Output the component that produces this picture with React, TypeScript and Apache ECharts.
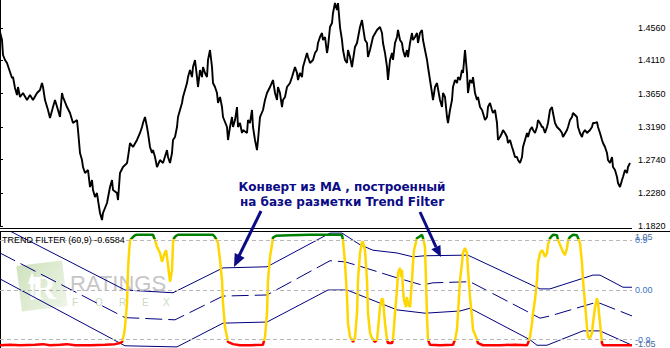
import React, { useEffect, useRef } from "react";
import * as echarts from "echarts";

// ---------- price window (bar index -> close) ----------
const priceBars = [0,2,3,5,7,10,12,13,15,17,18,20,23,27,30,33,37,40,42,43,45,48,50,53,55,58,60,62,63,67,70,73,77,78,80,82,83,85,88,90,92,93,95,97,98,100,102,103,107,110,112,113,117,118,120,123,127,128,130,133,137,140,142,143,145,147,148,150,152,153,155,157,160,163,167,168,170,172,173,175,177,178,180,182,183,185,187,188,190,192,193,195,197,198,200,202,203,205,207,208,210,212,213,215,217,218,220,222,223,227,228,230,232,233,235,237,238,240,242,243,247,248,250,252,253,255,257,258,260,263,265,267,270,273,275,277,278,280,282,283,285,287,290,292,295,297,298,300,302,303,305,307,308,310,313,315,317,318,320,322,323,325,327,328,330,332,333,335,337,338,340,342,343,345,347,348,350,352,353,355,357,360,362,363,365,367,368,370,373,377,380,382,383,385,387,388,390,392,393,395,397,398,400,402,403,405,407,408,410,412,413,415,417,418,420,422,423,425,427,428,430,432,433,435,437,440,442,443,445,447,448,450,452,453,455,457,458,460,462,463,465,467,468,470,472,473,475,477,478,480,482,483,485,487,488,490,492,493,495,497,498,500,502,503,505,507,508,510,512,513,515,517,518,520,522,523,525,527,528,530,532,533,535,537,538,540,542,543,545,547,548,550,552,553,555,557,560,562,563,567,568,570,572,573,577,578,580,582,583,585,587,590,592,593,595,597,598,600,602,603,605,607,608,610,612,613,615,617,618,620,622,623,625,627,628,630];
const priceValues = [1.4504,1.4393,1.4186,1.4117,1.4075,1.3951,1.3868,1.3881,1.3729,1.3632,1.3743,1.3605,1.3660,1.3563,1.3632,1.3563,1.3660,1.3702,1.3798,1.3743,1.3563,1.3425,1.3314,1.3466,1.3563,1.3425,1.3328,1.3660,1.3605,1.3466,1.3383,1.3245,1.3286,1.3148,1.2830,1.2733,1.2636,1.2553,1.2595,1.2359,1.2456,1.2318,1.2221,1.2276,1.2179,1.2000,1.1903,1.2000,1.2138,1.2359,1.2456,1.2318,1.2276,1.2179,1.2553,1.2636,1.2691,1.2774,1.2968,1.2913,1.3010,1.3107,1.3190,1.3245,1.3328,1.3190,1.3107,1.2913,1.2830,1.2871,1.2774,1.2636,1.2733,1.2691,1.2871,1.2774,1.2691,1.2830,1.3010,1.3051,1.3190,1.3328,1.3425,1.3522,1.3605,1.3702,1.3798,1.3881,1.3978,1.3881,1.4020,1.4117,1.3881,1.3743,1.3978,1.3881,1.4020,1.3937,1.3881,1.4117,1.4255,1.4020,1.3798,1.3743,1.3660,1.3522,1.3605,1.3466,1.3328,1.3190,1.3010,1.3190,1.3328,1.3190,1.3286,1.3466,1.3190,1.3245,1.3107,1.3148,1.3107,1.3286,1.3245,1.3425,1.3190,1.3010,1.2871,1.3010,1.3328,1.3425,1.3563,1.3660,1.3743,1.3840,1.3660,1.3563,1.3743,1.3660,1.3466,1.3563,1.3605,1.3743,1.3798,1.3881,1.4020,1.3937,1.3840,1.3937,1.3881,1.4020,1.4117,1.4214,1.4158,1.4075,1.4117,1.4214,1.4255,1.4352,1.4435,1.4490,1.4393,1.4435,1.4214,1.4297,1.4573,1.4629,1.4767,1.4905,1.4809,1.4905,1.4573,1.4393,1.4255,1.4117,1.4075,1.4255,1.4158,1.4020,1.4117,1.4297,1.4352,1.4573,1.4670,1.4573,1.4393,1.4352,1.4158,1.4255,1.4435,1.4532,1.4573,1.4490,1.4352,1.4214,1.4020,1.3840,1.4117,1.4214,1.4117,1.4352,1.4435,1.4532,1.4393,1.4352,1.4255,1.4158,1.4255,1.4158,1.4352,1.4490,1.4393,1.4435,1.4490,1.4352,1.4490,1.4532,1.4393,1.4255,1.4117,1.4020,1.3840,1.3660,1.3563,1.3743,1.3798,1.3563,1.3466,1.3660,1.3605,1.3328,1.3245,1.3425,1.3563,1.3743,1.3840,1.3798,1.3881,1.3840,1.3978,1.3937,1.4255,1.3937,1.3660,1.3840,1.3798,1.3881,1.3660,1.3563,1.3605,1.3466,1.3425,1.3383,1.3286,1.3328,1.3466,1.3522,1.3425,1.3383,1.3425,1.3245,1.3010,1.3051,1.3107,1.3148,1.3107,1.3051,1.2968,1.3010,1.2913,1.2871,1.2774,1.2774,1.2733,1.2691,1.2774,1.2913,1.3010,1.3107,1.3051,1.3148,1.3190,1.3148,1.3107,1.3190,1.3286,1.3245,1.3190,1.3190,1.3107,1.3190,1.3245,1.3425,1.3466,1.3383,1.3245,1.3190,1.3148,1.3107,1.3051,1.3148,1.3190,1.3286,1.3328,1.3383,1.3328,1.3190,1.3107,1.3051,1.3107,1.3148,1.3107,1.3148,1.3190,1.3245,1.3245,1.3259,1.3190,1.3107,1.3010,1.2968,1.2913,1.2830,1.2733,1.2691,1.2774,1.2636,1.2595,1.2498,1.2415,1.2359,1.2456,1.2498,1.2595,1.2553,1.2636,1.2691];
const priceTicks = [1.182, 1.228, 1.274, 1.319, 1.365, 1.411, 1.456];

// ---------- TREND FILTER window ----------
const tfBars = [0,10,20,35,43,50,60,67,75,90,105,115,120,122,124,125,127,128,129,130,132,133,135,137,145,153,155,157,160,162,164,166,167,168,170,172,173,174,176,178,190,205,213,215,218,220,222,223,225,227,228,233,240,250,263,265,267,268,270,272,273,276,290,310,330,340,342,343,345,347,348,350,352,353,355,357,358,360,362,363,365,367,368,370,372,373,375,377,378,380,382,383,385,387,388,392,393,395,397,398,400,401,402,403,404,406,407,408,410,412,413,414,416,417,419,422,423,425,426,427,428,430,440,453,455,457,458,460,462,463,465,467,468,470,472,473,476,478,483,500,515,527,528,530,532,533,535,537,538,540,542,543,545,547,548,550,553,557,558,560,563,565,567,568,570,573,577,578,580,582,583,585,587,588,590,592,593,595,597,598,600,601,602,603,615,632];
const tfValues = [-1.0,-0.99,-1.0,-0.99,-0.98,-1.0,-0.99,-0.98,-1.0,-1.0,-0.99,-0.98,-0.96,-0.94,-0.8,-0.67,-0.24,0.36,0.67,0.9,0.94,0.96,0.99,1.0,1.0,1.0,0.9,0.78,0.67,0.51,0.63,0.72,0.6,0.45,0.15,0.36,0.85,0.94,0.98,1.0,1.0,1.0,1.0,0.96,0.85,0.54,0.18,-0.24,-0.67,-0.85,-0.94,-0.98,-1.0,-1.0,-0.99,-0.85,-0.42,0.18,0.6,0.82,0.95,0.98,0.99,1.0,1.0,1.0,0.99,0.9,0.49,-0.13,-0.6,-0.85,-0.9,-0.94,-0.87,-0.42,0.18,0.67,0.87,0.87,0.72,0.18,-0.42,-0.78,-0.87,-0.9,-0.94,-0.9,-0.72,-0.31,-0.15,-0.18,-0.6,-0.9,-0.96,-0.96,-0.9,-0.42,0.0,0.31,0.4,0.24,0.36,0.0,-0.18,-0.31,-0.13,-0.24,-0.31,0.18,0.49,0.72,0.87,0.94,0.96,1.0,0.94,0.78,0.18,-0.49,-0.9,-0.99,-1.0,-0.99,-0.9,-0.72,-0.42,0.18,0.49,0.67,0.76,0.67,0.36,-0.13,-0.49,-0.72,-0.85,-0.96,-1.0,-1.0,-0.99,-1.0,-0.96,-0.85,-0.6,-0.42,-0.18,0.18,0.49,0.67,0.72,0.69,0.6,0.67,0.82,0.94,1.0,0.99,0.9,0.82,0.69,0.63,0.76,0.9,0.96,1.0,0.99,0.94,0.85,0.49,0.18,-0.24,-0.67,-0.85,-0.87,-0.78,-0.6,-0.31,-0.15,-0.24,-0.6,-0.78,-0.96,-1.0,-1.0,-1.0];

const upperBars = [0,125,173,223,267,330,342,360,373,397,413,425,463,468,540,550,593,600,623,632];
const upperValues = [1.16,-0.0,-0.05,0.4,0.42,1.03,1.03,0.82,0.72,0.67,0.6,0.62,0.63,0.63,0.02,0.02,0.27,0.27,0.05,0.05];
const middleBars = [0,125,175,223,267,330,345,360,397,422,433,470,540,550,593,600,632];
const middleValues = [0.67,-0.5,-0.54,-0.11,-0.09,0.53,0.51,0.43,0.22,0.09,0.13,0.15,-0.51,-0.47,-0.24,-0.24,-0.47];
const lowerBars = [0,125,177,223,267,328,347,397,425,460,470,530,537,547,583,600,632];
const lowerValues = [0.2,-1.01,-1.03,-0.6,-0.58,0.0,0.0,-0.36,-0.42,-0.38,-0.33,-0.9,-1.0,-1.0,-0.74,-0.74,-1.0];

const levelValues = [0.9, 0, -0.9];
const levelTicks = [-0.9, 0, 0.9];
const rangeTicks = [-1.05, 1.05];
const indicatorTitle = "TREND FILTER (60,9) -0.6584";
const noteLines = ["Конверт из МА , построенный", "на базе разметки Trend Filter"];

const pairs = (xs: number[], ys: number[]) => xs.map((x, i) => [x, ys[i]]);

export default function App() {
  const ref = useRef<HTMLDivElement>(null);
  useEffect(() => {
    if (!ref.current) return;
    const chart = echarts.init(ref.current, null, { renderer: "svg" });
    const navy = "#000080";
    const font = "Liberation Sans, Arial, sans-serif";
    chart.setOption({
      animation: false,
      backgroundColor: "#ffffff",
      grid: [
        { left: 0, top: 0, width: 632, height: 226, containLabel: false },
        { left: 0, top: 232, width: 632, height: 116, containLabel: false },
      ],
      xAxis: [
        { type: "value", gridIndex: 0, min: 0, max: 632, show: false },
        { type: "value", gridIndex: 1, min: 0, max: 632, show: false },
      ],
      yAxis: [
        {
          type: "value", gridIndex: 0, position: "right", min: 1.182, max: 1.4947,
          axisLine: { show: true, lineStyle: { color: "#000", width: 1 } },
          axisTick: { show: true, length: 3, lineStyle: { color: "#000" }, customValues: priceTicks },
          axisLabel: { customValues: priceTicks, formatter: (v: number) => v.toFixed(4), color: "#000", fontSize: 9, fontFamily: font, margin: 6, showMinLabel: true, showMaxLabel: true },
          splitLine: { show: false },
        },
        {
          type: "value", gridIndex: 1, position: "right", min: -1.05, max: 1.05,
          axisLine: { show: true, lineStyle: { color: "#000", width: 1 } },
          axisTick: { show: false },
          axisLabel: {
            customValues: levelTicks,
            formatter: (v: number) => (v === 0 ? "0.00" : v.toFixed(1)),
            color: "#3a74c4", fontSize: 9, fontFamily: font, margin: 3,
            showMinLabel: true, showMaxLabel: true,
          },
          splitLine: { show: false },
        },
        {
          type: "value", gridIndex: 1, position: "right", min: -1.05, max: 1.05,
          axisLine: { show: false },
          axisTick: { show: false },
          axisLabel: {
            customValues: rangeTicks,
            formatter: (v: number) => v.toFixed(2),
            color: "#4a6a9a", fontSize: 9, fontFamily: font, margin: 3,
            showMinLabel: true, showMaxLabel: true,
            verticalAlignMaxLabel: "top", verticalAlignMinLabel: "bottom",
          },
          splitLine: { show: false },
        },
      ],
      visualMap: {
        type: "piecewise", show: false, seriesIndex: 5, dimension: 1,
        pieces: [
          { lt: -0.92, color: "#ff0000" },
          { gte: -0.92, lte: 0.92, color: "#ffd700" },
          { gt: 0.92, color: "#008000" },
        ],
      },
      series: [
        {
          type: "line", xAxisIndex: 0, yAxisIndex: 0, data: pairs(priceBars, priceValues),
          showSymbol: false, lineStyle: { color: "#000", width: 1.9 }, z: 3,
        },
        {
          type: "line", xAxisIndex: 1, yAxisIndex: 1, data: [], showSymbol: false, z: 1,
          markLine: {
            silent: true, symbol: "none", label: { show: false },
            lineStyle: { color: "#b8b8b8", type: [4, 3], width: 1 },
            data: levelValues.map((v) => ({ yAxis: v })),
          },
        },
        {
          type: "line", xAxisIndex: 1, yAxisIndex: 1, data: pairs(upperBars, upperValues),
          showSymbol: false, lineStyle: { color: navy, width: 1 }, z: 3,
        },
        {
          type: "line", xAxisIndex: 1, yAxisIndex: 1, data: pairs(middleBars, middleValues),
          showSymbol: false, lineStyle: { color: navy, width: 1, type: [17, 6] }, z: 3,
        },
        {
          type: "line", xAxisIndex: 1, yAxisIndex: 1, data: pairs(lowerBars, lowerValues),
          showSymbol: false, lineStyle: { color: navy, width: 1 }, z: 3,
        },
        {
          type: "line", xAxisIndex: 1, yAxisIndex: 1, data: pairs(tfBars, tfValues),
          showSymbol: false, lineStyle: { width: 2.5 }, z: 4,
        },
      ],
      graphic: [
        // watermark
        {
          type: "group", z: 0, silent: true,
          children: [
            {
              type: "rect", x: 42, y: 286, originX: 0, originY: 0, rotation: 0.12,
              shape: { x: -23, y: -23, width: 46, height: 46 },
              style: {
                fill: new echarts.graphic.LinearGradient(0, 0, 1, 1, [
                  { offset: 0, color: "#cfe2bd" },
                  { offset: 1, color: "#eef5e8" },
                ]),
              },
            },
            { type: "text", x: 44, y: 287, style: { text: "R", fill: "#ffffff", font: "bold 34px 'Liberation Serif', serif", align: "center", verticalAlign: "middle" } },
            { type: "polygon", shape: { points: [[28, 284], [32, 272], [36, 284], [33.5, 284], [33.5, 300], [30.5, 300], [30.5, 284]] }, style: { fill: "#ffffff" } },
            { type: "text", x: 70, y: 283, style: { text: "RATINGS", fill: "#c6c6c6", font: "22px 'Liberation Sans', Arial, sans-serif", verticalAlign: "middle" } },
            { type: "text", x: 72, y: 302, style: { text: "F", fill: "#c8dcbc", font: "10px 'Liberation Sans', Arial, sans-serif", verticalAlign: "middle" } },
            { type: "text", x: 95, y: 302, style: { text: "O", fill: "#c8dcbc", font: "10px 'Liberation Sans', Arial, sans-serif", verticalAlign: "middle" } },
            { type: "text", x: 119, y: 302, style: { text: "R", fill: "#c8dcbc", font: "10px 'Liberation Sans', Arial, sans-serif", verticalAlign: "middle" } },
            { type: "text", x: 142, y: 302, style: { text: "E", fill: "#c8dcbc", font: "10px 'Liberation Sans', Arial, sans-serif", verticalAlign: "middle" } },
            { type: "text", x: 163, y: 302, style: { text: "X", fill: "#c8dcbc", font: "10px 'Liberation Sans', Arial, sans-serif", verticalAlign: "middle" } },
          ],
        },
        // window separators
        { type: "line", z: 50, shape: { x1: 0, y1: 228.5, x2: 632, y2: 228.5 }, style: { stroke: "#000", lineWidth: 1 } },
        { type: "line", z: 50, shape: { x1: 0, y1: 231.5, x2: 670, y2: 231.5 }, style: { stroke: "#000", lineWidth: 1 } },
        // indicator title
        { type: "text", z: 50, x: 2, y: 240, style: { text: indicatorTitle, fill: "#000", font: "9px 'Liberation Sans', Arial, sans-serif", verticalAlign: "middle" } },
        // annotation
        { type: "text", z: 60, x: 342, y: 187, style: { text: noteLines[0], fill: "#0c0c86", font: "bold 12px 'DejaVu Sans', sans-serif", align: "center", verticalAlign: "middle" } },
        { type: "text", z: 60, x: 342, y: 202, style: { text: noteLines[1], fill: "#0c0c86", font: "bold 12px 'DejaVu Sans', sans-serif", align: "center", verticalAlign: "middle" } },
        { type: "line", z: 60, shape: { x1: 261, y1: 211, x2: 239, y2: 256 }, style: { stroke: "#0c0c86", lineWidth: 3 } },
        { type: "polygon", z: 60, shape: { points: [[234, 267], [244.6, 257.7], [234.7, 252.9]] }, style: { fill: "#0c0c86" } },
        { type: "line", z: 60, shape: { x1: 420, y1: 212, x2: 436, y2: 247 }, style: { stroke: "#0c0c86", lineWidth: 3 } },
        { type: "polygon", z: 60, shape: { points: [[441, 257], [440.4, 245], [431.4, 249.2]] }, style: { fill: "#0c0c86" } },
      ],
    });
    return () => chart.dispose();
  }, []);
  return (
    <div
      ref={ref}
      style={{ position: "fixed", left: 0, top: 0, width: 670, height: 348, background: "#fff" }}
    />
  );
}
